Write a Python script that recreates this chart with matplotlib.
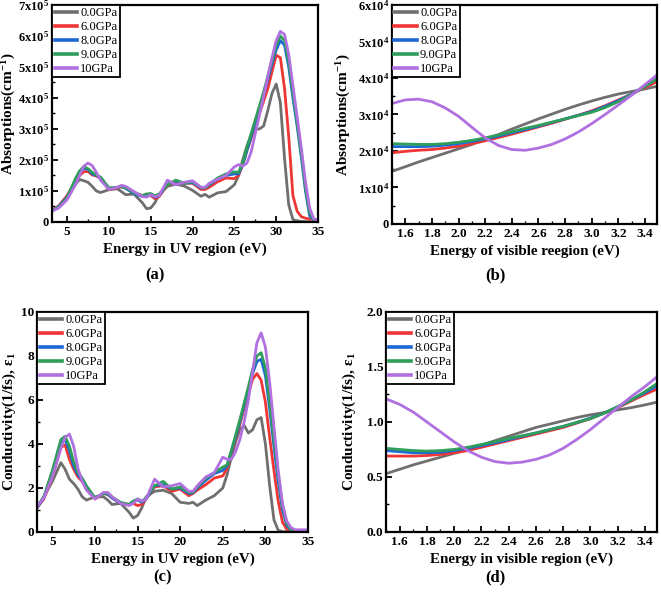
import matplotlib
matplotlib.use('Agg')
import matplotlib.pyplot as plt
from matplotlib.ticker import MultipleLocator, AutoMinorLocator, FuncFormatter

plt.rcParams['font.family'] = ['Liberation Serif', 'DejaVu Serif']
plt.rcParams['font.weight'] = 'bold'
plt.rcParams['mathtext.fontset'] = 'custom'
plt.rcParams['mathtext.rm'] = 'Liberation Serif:bold'
plt.rcParams['mathtext.it'] = 'Liberation Serif:bold:italic'
plt.rcParams['mathtext.bf'] = 'Liberation Serif:bold'

labels = ['0.0GPa', '6.0GPa', '8.0GPa', '9.0GPa', '10GPa']
colors = ['#6f6f6f', '#f03535', '#1c68d4', '#2e9e5a', '#b070e0']

# UV energy grid (eV), shared by panels (a) and (c)
energy_uv = [3.2, 4, 5, 6, 6.5, 7, 7.5, 8, 8.5, 9, 10, 11, 11.5, 12, 13, 14, 14.5, 15, 15.5, 16,
             17, 18, 19, 20, 21, 21.5, 22, 23, 24, 25, 25.5, 26, 26.5, 27, 27.5, 28, 28.5, 29, 29.5, 30,
             30.5, 31, 31.5, 32, 32.5, 33, 33.5, 34, 34.5, 35]

# (a) absorption, units of 1e5 cm^-1
abs_uv_0 = [0.38, 0.5, 0.78, 1.22, 1.37, 1.33, 1.28, 1.15, 1.0, 0.95, 1.04, 1.07, 0.98, 0.88, 0.9, 0.62, 0.43, 0.45, 0.62, 0.88,
            1.15, 1.22, 1.16, 1.02, 0.83, 0.89, 0.8, 0.94, 0.98, 1.2, 1.5, 2.0, 2.45, 2.8, 3.0, 3.0, 3.1, 3.6, 4.15, 4.45,
            3.85, 2.05, 0.55, 0.08, 0.03, 0.02, 0.01, 0.01, 0.0, 0.0]
abs_uv_6 = [0.38, 0.52, 0.85, 1.3, 1.5, 1.62, 1.63, 1.52, 1.48, 1.42, 1.05, 1.1, 1.13, 1.1, 0.95, 0.85, 0.9, 0.85, 0.75, 0.82,
            1.2, 1.3, 1.25, 1.25, 1.05, 1.05, 1.12, 1.3, 1.42, 1.4, 1.5, 1.85, 2.3, 2.7, 3.1, 3.5, 3.9, 4.3, 4.85, 5.38,
            5.3, 4.3, 2.75, 0.85, 0.35, 0.17, 0.12, 0.1, 0.08, 0.05]
abs_uv_8 = [0.36, 0.5, 0.8, 1.35, 1.6, 1.72, 1.7, 1.55, 1.5, 1.43, 1.08, 1.12, 1.15, 1.08, 0.92, 0.82, 0.88, 0.88, 0.8, 0.85,
            1.22, 1.32, 1.25, 1.27, 1.1, 1.1, 1.2, 1.38, 1.5, 1.55, 1.55, 1.85, 2.3, 2.75, 3.2, 3.65, 4.1, 4.6, 5.1, 5.55,
            5.85, 5.7, 5.0, 4.0, 3.1, 2.1, 1.0, 0.2, 0.06, 0.04]
abs_uv_9 = [0.36, 0.48, 0.78, 1.4, 1.65, 1.78, 1.72, 1.6, 1.52, 1.45, 1.1, 1.12, 1.15, 1.1, 0.95, 0.85, 0.9, 0.92, 0.85, 0.9,
            1.2, 1.35, 1.25, 1.3, 1.12, 1.1, 1.22, 1.42, 1.55, 1.62, 1.6, 1.9, 2.4, 2.85, 3.3, 3.75, 4.2, 4.7, 5.2, 5.7,
            6.0, 5.85, 5.15, 4.15, 3.2, 2.2, 1.1, 0.3, 0.08, 0.05]
abs_uv_10 = [0.35, 0.45, 0.72, 1.2, 1.5, 1.8, 1.9, 1.82, 1.6, 1.35, 1.05, 1.12, 1.18, 1.15, 0.98, 0.82, 0.8, 0.88, 0.82, 0.85,
             1.35, 1.2, 1.28, 1.33, 1.12, 1.12, 1.25, 1.38, 1.5, 1.78, 1.85, 1.8, 1.9, 2.25, 2.85, 3.45, 4.05, 4.7, 5.3, 5.85,
             6.15, 6.05, 5.4, 4.4, 3.4, 2.4, 1.3, 0.45, 0.1, 0.05]

# (c) conductivity (1/fs)
cond_uv_0 = [1.09, 1.6, 2.3, 3.15, 2.85, 2.4, 2.2, 1.95, 1.6, 1.45, 1.6, 1.6, 1.45, 1.25, 1.3, 0.9, 0.63, 0.75, 1.1, 1.6,
             1.85, 1.9, 1.75, 1.35, 1.3, 1.35, 1.2, 1.45, 1.65, 2.0, 2.6, 3.4, 4.1, 4.65, 4.85, 4.5, 4.65, 5.1, 5.2, 4.0,
             2.1, 0.55, 0.08, 0.02, 0.01, 0.0, 0.0, 0.0, 0.0, 0.0]
cond_uv_6 = [1.1, 1.5, 2.5, 3.85, 3.95, 3.3, 2.85, 2.5, 2.3, 2.0, 1.5, 1.75, 1.7, 1.55, 1.3, 1.25, 1.3, 1.2, 1.25, 1.5,
             2.05, 2.1, 1.85, 1.95, 1.65, 1.75, 1.9, 2.15, 2.45, 2.55, 2.9, 3.6, 4.2, 4.9, 5.6, 6.3, 6.95, 7.2, 6.9, 5.9,
             4.3, 2.8, 1.4, 0.45, 0.12, 0.03, 0.01, 0.0, 0.0, 0.0]
cond_uv_8 = [1.1, 1.55, 2.7, 4.1, 4.2, 3.7, 3.0, 2.6, 2.35, 2.0, 1.55, 1.75, 1.72, 1.55, 1.3, 1.25, 1.4, 1.45, 1.35, 1.5,
             2.1, 2.15, 1.95, 2.0, 1.75, 1.78, 2.0, 2.35, 2.65, 2.8, 3.0, 3.65, 4.3, 5.0, 5.75, 6.5, 7.2, 7.75, 7.85, 7.1,
             5.6, 3.9, 2.3, 1.0, 0.3, 0.07, 0.02, 0.0, 0.0, 0.0]
cond_uv_9 = [1.15, 1.6, 2.8, 4.2, 4.35, 3.9, 3.2, 2.7, 2.45, 2.1, 1.55, 1.75, 1.75, 1.6, 1.35, 1.25, 1.4, 1.5, 1.4, 1.55,
             2.1, 2.3, 1.95, 2.05, 1.8, 1.8, 2.05, 2.45, 2.7, 2.95, 3.05, 3.7, 4.4, 5.1, 5.85, 6.6, 7.4, 8.0, 8.15, 7.45,
             5.9, 4.2, 2.6, 1.2, 0.4, 0.1, 0.03, 0.0, 0.0, 0.0]
cond_uv_10 = [1.15, 1.55, 2.5, 3.8, 4.3, 4.45, 3.9, 2.9, 2.3, 1.9, 1.5, 1.8, 1.8, 1.6, 1.3, 1.2, 1.3, 1.5, 1.4, 1.5,
              2.4, 2.05, 2.1, 2.2, 1.85, 1.85, 2.1, 2.5, 2.7, 3.4, 3.3, 3.3, 3.65, 4.2, 5.0, 6.0, 7.3, 8.6, 9.05, 8.4,
              6.8, 4.8, 2.8, 1.3, 0.5, 0.2, 0.1, 0.1, 0.1, 0.1]

# visible energy grid (eV), shared by panels (b) and (d)
energy_vis = [1.5, 1.6, 1.7, 1.8, 1.9, 2.0, 2.1, 2.2, 2.3, 2.4, 2.5, 2.6, 2.7, 2.8, 2.9, 3.0, 3.1, 3.2, 3.3, 3.4, 3.49]

# (b) absorption, units of 1e4 cm^-1
abs_vis_0 = [1.44, 1.57, 1.7, 1.82, 1.94, 2.06, 2.18, 2.31, 2.45, 2.6, 2.74, 2.88, 3.01, 3.14, 3.26, 3.37, 3.47, 3.56, 3.63, 3.7, 3.77]
abs_vis_6 = [1.95, 1.99, 2.02, 2.04, 2.08, 2.13, 2.2, 2.28, 2.37, 2.46, 2.56, 2.66, 2.76, 2.87, 2.98, 3.1, 3.24, 3.4, 3.56, 3.74, 3.9]
abs_vis_8 = [2.12, 2.12, 2.12, 2.13, 2.16, 2.2, 2.26, 2.33, 2.41, 2.5, 2.59, 2.68, 2.78, 2.88, 2.98, 3.08, 3.22, 3.38, 3.56, 3.77, 3.98]
abs_vis_9 = [2.2, 2.19, 2.18, 2.18, 2.2, 2.24, 2.29, 2.36, 2.44, 2.53, 2.62, 2.7, 2.79, 2.88, 2.97, 3.06, 3.19, 3.35, 3.55, 3.77, 3.98]
abs_vis_10 = [3.3, 3.4, 3.42, 3.35, 3.18, 2.95, 2.65, 2.36, 2.15, 2.04, 2.02, 2.08, 2.18, 2.33, 2.52, 2.75, 3.0, 3.26, 3.53, 3.82, 4.08]

# (d) conductivity (1/fs)
cond_vis_0 = [0.53, 0.57, 0.61, 0.645, 0.68, 0.715, 0.75, 0.79, 0.83, 0.87, 0.91, 0.95, 0.98, 1.01, 1.04, 1.065, 1.085, 1.11, 1.13, 1.155, 1.18]
cond_vis_6 = [0.69, 0.69, 0.69, 0.695, 0.705, 0.72, 0.74, 0.77, 0.8, 0.83, 0.86, 0.89, 0.92, 0.95, 0.99, 1.03, 1.08, 1.13, 1.19, 1.25, 1.3]
cond_vis_8 = [0.74, 0.73, 0.72, 0.72, 0.725, 0.74, 0.76, 0.785, 0.81, 0.84, 0.87, 0.9, 0.93, 0.96, 0.995, 1.035, 1.08, 1.135, 1.2, 1.265, 1.33]
cond_vis_9 = [0.76, 0.75, 0.74, 0.735, 0.74, 0.75, 0.77, 0.795, 0.82, 0.85, 0.875, 0.9, 0.93, 0.96, 0.995, 1.03, 1.08, 1.14, 1.2, 1.275, 1.35]
cond_vis_10 = [1.21, 1.16, 1.09, 1.0, 0.91, 0.82, 0.74, 0.68, 0.64, 0.625, 0.635, 0.66, 0.7, 0.76, 0.84, 0.93, 1.03, 1.13, 1.23, 1.32, 1.41]


def sci_fmt(exp):
    def f(v, pos):
        n = int(round(v / 10 ** exp))
        if n == 0:
            return '0'
        return '%dx10$^{%d}$' % (n, exp)
    return FuncFormatter(f)


def style_axes(ax, ysize=9.5):
    for s in ax.spines.values():
        s.set_linewidth(1.6)
    ax.tick_params(which='major', direction='in', length=4, width=1.3, labelsize=9.5,
                   top=False, right=False, pad=3)
    ax.tick_params(axis='y', which='major', labelsize=ysize, pad=2)
    ax.tick_params(which='minor', direction='in', length=2.5, width=1.0, top=False, right=False)
    ax.xaxis.set_minor_locator(AutoMinorLocator(2))
    ax.yaxis.set_minor_locator(AutoMinorLocator(2))


def draw_panel(ax, x, series, scale):
    for ys, c, lab in zip(series, colors, labels):
        ax.plot(x, [v * scale for v in ys], color=c, lw=2.0, label=lab)
    leg = ax.legend(loc='upper left', prop={'family': 'Liberation Serif', 'weight': 'normal', 'size': 9},
                    frameon=True, fancybox=False, framealpha=1, edgecolor='black',
                    handlelength=1.8, handletextpad=0.25, labelspacing=0.15,
                    borderpad=0.2, borderaxespad=0.0)
    leg.get_frame().set_linewidth(1.3)
    for line in leg.get_lines():
        line.set_linewidth(2.6)


fig = plt.figure(figsize=(6.61, 5.94), dpi=100)
ax_a = fig.add_axes([0.0787, 0.6263, 0.4024, 0.3653])
ax_b = fig.add_axes([0.593, 0.6229, 0.4009, 0.3687])
ax_c = fig.add_axes([0.056, 0.1044, 0.41, 0.3704])
ax_d = fig.add_axes([0.584, 0.1044, 0.41, 0.3704])

xlab_size = 10.8
ylab_size = 11

# (a)
draw_panel(ax_a, energy_uv, [abs_uv_0, abs_uv_6, abs_uv_8, abs_uv_9, abs_uv_10], 1e5)
ax_a.set_xlim(3.2, 35)
ax_a.set_ylim(0, 7e5)
ax_a.xaxis.set_major_locator(MultipleLocator(5))
ax_a.yaxis.set_major_locator(MultipleLocator(1e5))
ax_a.yaxis.set_major_formatter(sci_fmt(5))
ax_a.set_xlabel('Energy in UV region (eV)', fontsize=xlab_size, fontweight='bold', labelpad=3)
ax_a.set_ylabel('Absorptions(cm$^{-1}$)', fontsize=ylab_size, fontweight='bold')
ax_a.yaxis.set_label_coords(-0.128, 0.5)
style_axes(ax_a, 9)

# (b)
draw_panel(ax_b, energy_vis, [abs_vis_0, abs_vis_6, abs_vis_8, abs_vis_9, abs_vis_10], 1e4)
ax_b.set_xlim(1.5, 3.49)
ax_b.set_ylim(0, 6e4)
ax_b.xaxis.set_major_locator(MultipleLocator(0.2))
ax_b.xaxis.set_major_formatter(FuncFormatter(lambda v, p: '%.1f' % v))
ax_b.yaxis.set_major_locator(MultipleLocator(1e4))
ax_b.yaxis.set_major_formatter(sci_fmt(4))
ax_b.set_xlabel('Energy of visible reegion (eV)', fontsize=xlab_size, fontweight='bold', labelpad=3)
ax_b.set_ylabel('Absorptions(cm$^{-1}$)', fontsize=ylab_size, fontweight='bold')
ax_b.yaxis.set_label_coords(-0.147, 0.5)
style_axes(ax_b, 9)

# (c)
draw_panel(ax_c, energy_uv, [cond_uv_0, cond_uv_6, cond_uv_8, cond_uv_9, cond_uv_10], 1)
ax_c.set_xlim(3.2, 35)
ax_c.set_ylim(0, 10)
ax_c.xaxis.set_major_locator(MultipleLocator(5))
ax_c.yaxis.set_major_locator(MultipleLocator(2))
ax_c.set_xlabel('Energy in UV region (eV)', fontsize=xlab_size, fontweight='bold', labelpad=3)
ax_c.set_ylabel('Conductivity(1/fs), ε$_{1}$', fontsize=ylab_size, fontweight='bold')
ax_c.yaxis.set_label_coords(-0.07, 0.5)
style_axes(ax_c)

# (d)
draw_panel(ax_d, energy_vis, [cond_vis_0, cond_vis_6, cond_vis_8, cond_vis_9, cond_vis_10], 1)
ax_d.set_xlim(1.5, 3.49)
ax_d.set_ylim(0, 2.0)
ax_d.xaxis.set_major_locator(MultipleLocator(0.2))
ax_d.xaxis.set_major_formatter(FuncFormatter(lambda v, p: '%.1f' % v))
ax_d.yaxis.set_major_locator(MultipleLocator(0.5))
ax_d.yaxis.set_major_formatter(FuncFormatter(lambda v, p: '%.1f' % v))
ax_d.set_xlabel('Energy in visible region (eV)', fontsize=xlab_size, fontweight='bold', labelpad=3)
ax_d.set_ylabel('Conductivity(1/fs), ε$_{1}$', fontsize=ylab_size, fontweight='bold')
ax_d.yaxis.set_label_coords(-0.105, 0.5)
style_axes(ax_d)

for txt, x, y in [('(a)', 155, 275), ('(b)', 495, 275), ('(c)', 163, 577), ('(d)', 495, 577)]:
    fig.text(x / 661, 1 - y / 594, txt, ha='center', va='center', fontsize=12, fontweight='bold')

fig.savefig('out.png', dpi=100)
